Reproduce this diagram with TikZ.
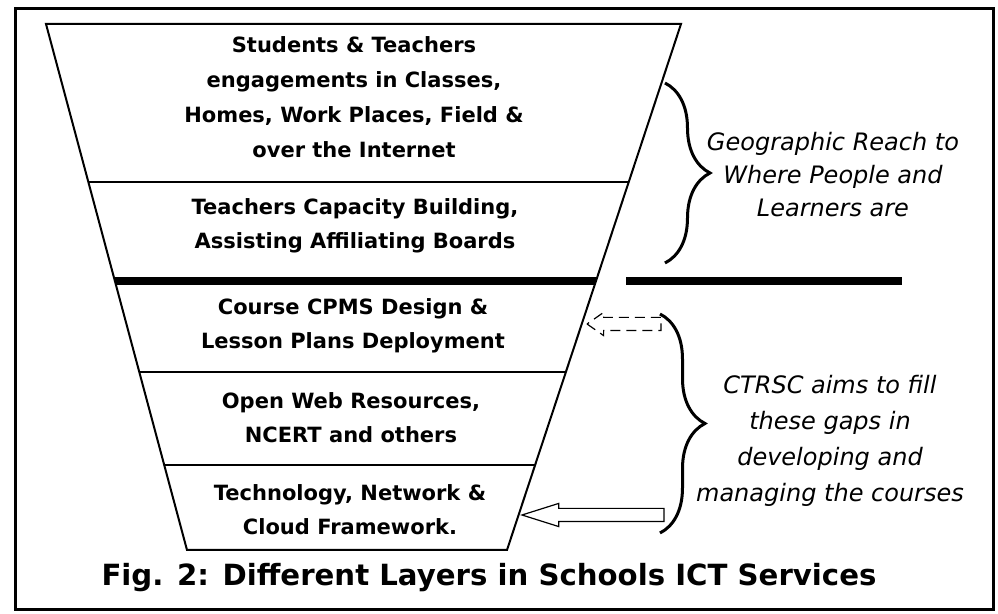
\documentclass[tikz,border=0pt]{standalone}
\usepackage{fontspec}
\setmainfont{DejaVu Sans}
\usetikzlibrary{calc,decorations.pathreplacing,shapes.arrows}

\begin{document}
\begin{tikzpicture}
  [x=0.5pt,y=-0.5pt,
   layer/.style={align=center,inner sep=0pt,font=\fontsize{10.5}{17}\selectfont\bfseries},
   side/.style={align=center,inner sep=0pt,font=\fontsize{12}{16.5}\selectfont\itshape},
   curly/.style={line width=1.5pt,decorate,decoration={brace,amplitude=22.5pt}},
   hollow/.style={single arrow,draw,line width=0.6pt,shape border rotate=180,inner sep=3pt,
     minimum width=11pt,single arrow head extend=2.5pt,single arrow tip angle=70,anchor=tip}]
  \useasboundingbox (0,0) rectangle (998,614);
  \draw[line width=1.5pt] (15,9) rectangle (993,610);

  \coordinate (tl) at (46,24);
  \coordinate (tr) at (681,24);
  \coordinate (br) at (507,550);
  \coordinate (bl) at (187,550);
  \draw[line width=1pt] (tl) -- (tr) -- (br) -- (bl) -- cycle;
  \foreach \t in {0.3004,0.6616,0.8384}
    \draw[line width=0.8pt] ($(tl)!\t!(bl)$) -- ($(tr)!\t!(br)$);
  \draw[line width=4pt] ($(tl)!0.4886!(bl)$) -- ($(tr)!0.4886!(br)$);
  \draw[line width=4pt] (626,281) -- (902,281);

  \node[layer,font=\fontsize{10.5}{17.5}\selectfont\bfseries] (l1) at (354,97) {Students \& Teachers\\engagements in Classes,\\Homes, Work Places, Field \&\\over the Internet};
  \node[layer] (l2) at (355,226) {Teachers Capacity Building,\\Assisting Affiliating Boards};
  \node[layer] (l3) at (353,326) {Course CPMS Design \&\\Lesson Plans Deployment};
  \node[layer] (l4) at (351,418) {Open Web Resources,\\NCERT and others};
  \node[layer] (l5) at (350,510) {Technology, Network \&\\Cloud Framework.};

  \draw[curly] (665,83) -- (665,263);
  \draw[curly] (660,314) -- (660,533);
  \node[side] (geo) at (833,175) {Geographic Reach to\\Where People and\\Learners are};
  \node[side,font=\fontsize{12}{18}\selectfont\itshape] (ctrsc) at (830,441) {CTRSC aims to fill\\these gaps in\\developing and\\managing the courses};

  \coordinate (tiptop) at (586,324);
  \coordinate (tipbot) at (520,515);
  \node[hollow,dash pattern=on 5pt off 3pt,minimum height=37pt] (arrtop) at (tiptop) {};
  \node[hollow,single arrow tip angle=35,minimum height=71pt] (arrbot) at (tipbot) {};

  \node[font=\fontsize{14.6}{17}\selectfont\bfseries] (cap) at (489,578) {Fig. 2: Different Layers in Schools ICT Services};
\end{tikzpicture}
\end{document}
